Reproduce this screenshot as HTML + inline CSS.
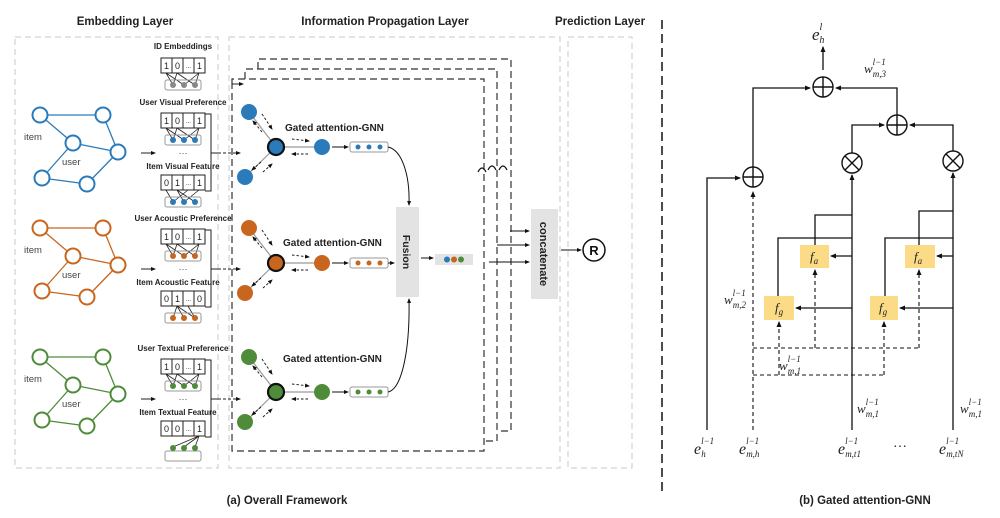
<!DOCTYPE html>
<html><head><meta charset="utf-8"><style>
html,body{margin:0;padding:0;background:#fff;}
svg{display:block;}
.b{font-family:"Liberation Sans",sans-serif;font-weight:bold;}
.s{font-family:"Liberation Serif",serif;font-style:italic;}
</style></head><body>
<svg width="1000" height="518" viewBox="0 0 1000 518" xmlns="http://www.w3.org/2000/svg">
<defs>
<marker id="a" markerWidth="6" markerHeight="6" refX="5" refY="3" orient="auto" markerUnits="userSpaceOnUse"><path d="M0,0.5 L6,3 L0,5.5z" fill="#111"/></marker>
<marker id="as" markerWidth="5" markerHeight="5" refX="4" refY="2.5" orient="auto" markerUnits="userSpaceOnUse"><path d="M0,0.5 L5,2.5 L0,4.5z" fill="#111"/></marker>
</defs>

<!-- titles -->
<text class="b" x="125" y="25" font-size="11.5" text-anchor="middle" fill="#222">Embedding Layer</text>
<text class="b" x="385" y="25" font-size="11.5" text-anchor="middle" fill="#222">Information Propagation Layer</text>
<text class="b" x="600" y="25" font-size="11.5" text-anchor="middle" fill="#222">Prediction Layer</text>

<!-- panels -->
<g fill="none" stroke="#c8c8c8" stroke-width="1" stroke-dasharray="6,4">
<rect x="15" y="37" width="203" height="431"/>
<rect x="229" y="37" width="331" height="431"/>
<rect x="568" y="37" width="64" height="431"/>
</g>
<line x1="662" y1="20" x2="662" y2="492" stroke="#111" stroke-width="1.5" stroke-dasharray="9,5"/>

<!-- ID embeddings -->
<text class="b" x="183" y="49" font-size="8" text-anchor="middle" fill="#222">ID Embeddings</text>
<g stroke="#222" stroke-width="1" fill="none">
<rect x="161" y="58" width="44" height="15" fill="#fff"/>
<line x1="172" y1="58" x2="172" y2="73"/><line x1="183" y1="58" x2="183" y2="73"/><line x1="194" y1="58" x2="194" y2="73"/>
<path d="M166,73 L173,85 M166,73 L184,85 M177,73 L173,85 M177,73 L195,85 M199,73 L184,85 M199,73 L195,85" stroke-width="0.8"/>
</g>
<rect x="165" y="80" width="36" height="10" rx="2" fill="none" stroke="#999"/>
<g fill="#888"><circle cx="173" cy="85" r="3"/><circle cx="184" cy="85" r="3"/><circle cx="195" cy="85" r="3"/></g>
<g font-family="Liberation Sans,sans-serif" font-size="9" text-anchor="middle" fill="#222">
<text x="166.5" y="69">1</text><text x="177.5" y="69">0</text><text x="188.5" y="68" font-size="6">...</text><text x="199.5" y="69">1</text></g>

<!-- graphs -->
<g stroke="#2b7bba" stroke-width="1.3" fill="none">
<path d="M40,115 L103,115 M40,115 L73,143 M73,143 L118,152 M103,115 L118,152 M118,152 L87,184 M87,184 L42,178 M42,178 L73,143"/>
<g fill="#fff" stroke-width="2"><circle cx="40" cy="115" r="7.5"/><circle cx="103" cy="115" r="7.5"/><circle cx="73" cy="143" r="7.5"/><circle cx="118" cy="152" r="7.5"/><circle cx="42" cy="178" r="7.5"/><circle cx="87" cy="184" r="7.5"/></g>
</g>
<g transform="translate(0,113)" stroke="#c8661f" stroke-width="1.3" fill="none">
<path d="M40,115 L103,115 M40,115 L73,143 M73,143 L118,152 M103,115 L118,152 M118,152 L87,184 M87,184 L42,178 M42,178 L73,143"/>
<g fill="#fff" stroke-width="2"><circle cx="40" cy="115" r="7.5"/><circle cx="103" cy="115" r="7.5"/><circle cx="73" cy="143" r="7.5"/><circle cx="118" cy="152" r="7.5"/><circle cx="42" cy="178" r="7.5"/><circle cx="87" cy="184" r="7.5"/></g>
</g>
<g transform="translate(0,242)" stroke="#4e8c3a" stroke-width="1.3" fill="none">
<path d="M40,115 L103,115 M40,115 L73,143 M73,143 L118,152 M103,115 L118,152 M118,152 L87,184 M87,184 L42,178 M42,178 L73,143"/>
<g fill="#fff" stroke-width="2"><circle cx="40" cy="115" r="7.5"/><circle cx="103" cy="115" r="7.5"/><circle cx="73" cy="143" r="7.5"/><circle cx="118" cy="152" r="7.5"/><circle cx="42" cy="178" r="7.5"/><circle cx="87" cy="184" r="7.5"/></g>
</g>
<g font-family="Liberation Sans,sans-serif" font-size="9.5" fill="#444">
<text x="24" y="140">item</text><text x="62" y="165">user</text>
<text x="24" y="253">item</text><text x="62" y="278">user</text>
<text x="24" y="382">item</text><text x="62" y="407">user</text>
</g>

<!-- blue -->
<g>
<text class="b" x="183" y="105" font-size="8" text-anchor="middle" fill="#222">User Visual Preference</text>
<text class="b" x="183" y="169" font-size="8" text-anchor="middle" fill="#222">Item Visual Feature</text>
<text x="183" y="156" font-size="9" text-anchor="middle" fill="#444" font-family="Liberation Sans,sans-serif">···</text>
<g stroke="#222" fill="#fff"><rect x="161" y="113" width="44" height="15"/><rect x="161" y="175" width="44" height="15"/></g>
<g stroke="#222" stroke-width="1"><path d="M172,113v15M183,113v15M194,113v15M172,175v15M183,175v15M194,175v15"/>
<path d="M166,128 L173,140 M166,128 L184,140 M177,128 L173,140 M177,128 L195,140 M199,128 L184,140 M199,128 L195,140 M166,190 L173,202 M177,190 L184,202 M177,190 L195,202 M199,190 L184,202 M188,190 L173,202" stroke-width="0.8" fill="none"/></g>
<g fill="none" stroke="#999"><rect x="165" y="135" width="36" height="10" rx="2"/><rect x="165" y="197" width="36" height="10" rx="2"/></g>
<g fill="#2b7bba"><circle cx="173" cy="140" r="3"/><circle cx="184" cy="140" r="3"/><circle cx="195" cy="140" r="3"/><circle cx="173" cy="202" r="3"/><circle cx="184" cy="202" r="3"/><circle cx="195" cy="202" r="3"/></g>
<g font-family="Liberation Sans,sans-serif" font-size="9" text-anchor="middle" fill="#222"><text x="166.5" y="124">1</text><text x="177.5" y="124">0</text><text x="188.5" y="123" font-size="6">...</text><text x="199.5" y="124">1</text><text x="166.5" y="186">0</text><text x="177.5" y="186">1</text><text x="188.5" y="185" font-size="6">...</text><text x="199.5" y="186">1</text></g>
<path d="M205,114 H211 V191 H205 M211,153 H218" fill="none" stroke="#222"/>
<line x1="141" y1="153" x2="155" y2="153" stroke="#222" marker-end="url(#as)"/>
</g>
<!-- orange -->
<g transform="translate(0,116)">
<text class="b" x="183" y="105" font-size="8" text-anchor="middle" fill="#222">User Acoustic Preference</text>
<text class="b" x="178" y="169" font-size="8" text-anchor="middle" fill="#222">Item Acoustic Feature</text>
<text x="183" y="156" font-size="9" text-anchor="middle" fill="#444" font-family="Liberation Sans,sans-serif">···</text>
<g stroke="#222" fill="#fff"><rect x="161" y="113" width="44" height="15"/><rect x="161" y="175" width="44" height="15"/></g>
<g stroke="#222" stroke-width="1"><path d="M172,113v15M183,113v15M194,113v15M172,175v15M183,175v15M194,175v15"/>
<path d="M166,128 L173,140 M166,128 L184,140 M177,128 L173,140 M177,128 L195,140 M199,128 L184,140 M199,128 L195,140 M177,190 L173,202 M177,190 L184,202 M177,190 L195,202 M188,190 L195,202" stroke-width="0.8" fill="none"/></g>
<g fill="none" stroke="#999"><rect x="165" y="135" width="36" height="10" rx="2"/><rect x="165" y="197" width="36" height="10" rx="2"/></g>
<g fill="#c8661f"><circle cx="173" cy="140" r="3"/><circle cx="184" cy="140" r="3"/><circle cx="195" cy="140" r="3"/><circle cx="173" cy="202" r="3"/><circle cx="184" cy="202" r="3"/><circle cx="195" cy="202" r="3"/></g>
<g font-family="Liberation Sans,sans-serif" font-size="9" text-anchor="middle" fill="#222"><text x="166.5" y="124">1</text><text x="177.5" y="124">0</text><text x="188.5" y="123" font-size="6">...</text><text x="199.5" y="124">1</text><text x="166.5" y="186">0</text><text x="177.5" y="186">1</text><text x="188.5" y="185" font-size="6">...</text><text x="199.5" y="186">0</text></g>
<path d="M205,114 H211 V191 H205 M211,153 H218" fill="none" stroke="#222"/>
<line x1="141" y1="153" x2="155" y2="153" stroke="#222" marker-end="url(#as)"/>
</g>
<!-- green -->
<g transform="translate(0,246)">
<text class="b" x="183" y="105" font-size="8" text-anchor="middle" fill="#222">User Textual Preference</text>
<text class="b" x="178" y="169" font-size="8" text-anchor="middle" fill="#222">Item Textual Feature</text>
<text x="183" y="156" font-size="9" text-anchor="middle" fill="#444" font-family="Liberation Sans,sans-serif">···</text>
<g stroke="#222" fill="#fff"><rect x="161" y="113" width="44" height="15"/><rect x="161" y="175" width="44" height="15"/></g>
<g stroke="#222" stroke-width="1"><path d="M172,113v15M183,113v15M194,113v15M172,175v15M183,175v15M194,175v15"/>
<path d="M166,128 L173,140 M166,128 L184,140 M177,128 L173,140 M177,128 L195,140 M199,128 L184,140 M199,128 L195,140 M199,190 L173,201 M199,190 L184,201 M199,190 L195,201" stroke-width="0.8" fill="none"/></g>
<g fill="none" stroke="#999"><rect x="165" y="135" width="36" height="10" rx="2"/><rect x="165" y="205" width="36" height="10" rx="2"/></g>
<g fill="#4e8c3a"><circle cx="173" cy="140" r="3"/><circle cx="184" cy="140" r="3"/><circle cx="195" cy="140" r="3"/><circle cx="173" cy="202" r="3"/><circle cx="184" cy="202" r="3"/><circle cx="195" cy="202" r="3"/></g>
<g font-family="Liberation Sans,sans-serif" font-size="9" text-anchor="middle" fill="#222"><text x="166.5" y="124">1</text><text x="177.5" y="124">0</text><text x="188.5" y="123" font-size="6">...</text><text x="199.5" y="124">1</text><text x="166.5" y="186">0</text><text x="177.5" y="186">0</text><text x="188.5" y="185" font-size="6">...</text><text x="199.5" y="186">1</text></g>
<path d="M205,114 H211 V191 H205 M211,153 H218" fill="none" stroke="#222"/>
<line x1="141" y1="153" x2="155" y2="153" stroke="#222" marker-end="url(#as)"/>
</g>

<!-- stacked dashed frames -->
<g fill="none" stroke="#333" stroke-width="1.2" stroke-dasharray="7,4">
<path d="M232,84 V79 H484 V451 H232 V84"/>
<path d="M245,79 V69 H497 V441 H484"/>
<path d="M258,69 V59 H511 V431 H497"/>
</g>
<g stroke="#222" stroke-width="1">
<line x1="232" y1="84" x2="243" y2="84" marker-end="url(#as)"/>
<line x1="218" y1="153" x2="240" y2="153" stroke-dasharray="3,2" marker-end="url(#as)"/>
<line x1="218" y1="269" x2="240" y2="269" stroke-dasharray="3,2" marker-end="url(#as)"/>
<line x1="218" y1="399" x2="240" y2="399" stroke-dasharray="3,2" marker-end="url(#as)"/>
</g>
<!-- hops -->
<path d="M478,172 q4,-8 8,0 M488,170 q4,-8 8,0 M499,170 q4,-8 8,0" fill="none" stroke="#111" stroke-width="1.2"/>

<!-- GNN blocks -->
<g>
<g stroke="#999" stroke-width="1.2"><line x1="249" y1="112" x2="276" y2="147"/><line x1="245" y1="177" x2="276" y2="147"/><line x1="276" y1="147" x2="322" y2="147"/></g>
<g stroke="#111" stroke-width="0.9" stroke-dasharray="2.5,2" fill="none">
<line x1="262" y1="114" x2="272" y2="129" marker-end="url(#as)"/><line x1="262" y1="132" x2="253" y2="121" marker-end="url(#as)"/><line x1="261" y1="162" x2="252" y2="170" marker-end="url(#as)"/><line x1="263" y1="172" x2="272" y2="164" marker-end="url(#as)"/><line x1="292" y1="139" x2="309" y2="141" marker-end="url(#as)"/><line x1="308" y1="154" x2="292" y2="154" marker-end="url(#as)"/>
</g>
<circle cx="249" cy="112" r="8" fill="#2b7bba"/><circle cx="245" cy="177" r="8" fill="#2b7bba"/><circle cx="322" cy="147" r="8" fill="#2b7bba"/>
<circle cx="276" cy="147" r="8" fill="#2b7bba" stroke="#111" stroke-width="2.2"/>
<line x1="332" y1="147" x2="348" y2="147" stroke="#111" marker-end="url(#as)"/>
<rect x="350" y="142" width="38" height="10" rx="2" fill="#fff" stroke="#999"/>
<g fill="#2b7bba"><circle cx="358" cy="147" r="2.5"/><circle cx="369" cy="147" r="2.5"/><circle cx="380" cy="147" r="2.5"/></g>
<text class="b" x="285" y="131" font-size="10" fill="#222">Gated attention-GNN</text>
</g>
<g transform="translate(0,116)">
<g stroke="#999" stroke-width="1.2"><line x1="249" y1="112" x2="276" y2="147"/><line x1="245" y1="177" x2="276" y2="147"/><line x1="276" y1="147" x2="322" y2="147"/></g>
<g stroke="#111" stroke-width="0.9" stroke-dasharray="2.5,2" fill="none">
<line x1="262" y1="114" x2="272" y2="129" marker-end="url(#as)"/><line x1="262" y1="132" x2="253" y2="121" marker-end="url(#as)"/><line x1="261" y1="162" x2="252" y2="170" marker-end="url(#as)"/><line x1="263" y1="172" x2="272" y2="164" marker-end="url(#as)"/><line x1="292" y1="139" x2="309" y2="141" marker-end="url(#as)"/><line x1="308" y1="154" x2="292" y2="154" marker-end="url(#as)"/>
</g>
<circle cx="249" cy="112" r="8" fill="#c8661f"/><circle cx="245" cy="177" r="8" fill="#c8661f"/><circle cx="322" cy="147" r="8" fill="#c8661f"/>
<circle cx="276" cy="147" r="8" fill="#c8661f" stroke="#111" stroke-width="2.2"/>
<line x1="332" y1="147" x2="348" y2="147" stroke="#111" marker-end="url(#as)"/>
<rect x="350" y="142" width="38" height="10" rx="2" fill="#fff" stroke="#999"/>
<g fill="#c8661f"><circle cx="358" cy="147" r="2.5"/><circle cx="369" cy="147" r="2.5"/><circle cx="380" cy="147" r="2.5"/></g>
<line x1="388" y1="147" x2="394" y2="147" stroke="#111" marker-end="url(#as)"/>
<text class="b" x="283" y="130" font-size="10" fill="#222">Gated attention-GNN</text>
</g>
<g transform="translate(0,245)">
<g stroke="#999" stroke-width="1.2"><line x1="249" y1="112" x2="276" y2="147"/><line x1="245" y1="177" x2="276" y2="147"/><line x1="276" y1="147" x2="322" y2="147"/></g>
<g stroke="#111" stroke-width="0.9" stroke-dasharray="2.5,2" fill="none">
<line x1="262" y1="114" x2="272" y2="129" marker-end="url(#as)"/><line x1="262" y1="132" x2="253" y2="121" marker-end="url(#as)"/><line x1="261" y1="162" x2="252" y2="170" marker-end="url(#as)"/><line x1="263" y1="172" x2="272" y2="164" marker-end="url(#as)"/><line x1="292" y1="139" x2="309" y2="141" marker-end="url(#as)"/><line x1="308" y1="154" x2="292" y2="154" marker-end="url(#as)"/>
</g>
<circle cx="249" cy="112" r="8" fill="#4e8c3a"/><circle cx="245" cy="177" r="8" fill="#4e8c3a"/><circle cx="322" cy="147" r="8" fill="#4e8c3a"/>
<circle cx="276" cy="147" r="8" fill="#4e8c3a" stroke="#111" stroke-width="2.2"/>
<line x1="332" y1="147" x2="348" y2="147" stroke="#111" marker-end="url(#as)"/>
<rect x="350" y="142" width="38" height="10" rx="2" fill="#fff" stroke="#999"/>
<g fill="#4e8c3a"><circle cx="358" cy="147" r="2.5"/><circle cx="369" cy="147" r="2.5"/><circle cx="380" cy="147" r="2.5"/></g>
<text class="b" x="283" y="117" font-size="10" fill="#222">Gated attention-GNN</text>
</g>

<!-- fusion -->
<path d="M388,147 C402,150 410,175 409,205" fill="none" stroke="#111" marker-end="url(#as)"/>
<path d="M388,392 C402,389 410,350 409,299" fill="none" stroke="#111" marker-end="url(#as)"/>
<rect x="396" y="207" width="23" height="90" fill="#e3e3e3"/>
<text class="b" transform="translate(403,252) rotate(90)" font-size="10.5" text-anchor="middle" fill="#222">Fusion</text>
<line x1="421" y1="258" x2="433" y2="258" stroke="#111" marker-end="url(#as)"/>
<rect x="435" y="254" width="38" height="11" fill="#e3e3e3"/>
<circle cx="447" cy="259.5" r="3" fill="#2b7bba"/><circle cx="454" cy="259.5" r="3" fill="#c8661f"/><circle cx="461" cy="259.5" r="3" fill="#4e8c3a"/>

<!-- concatenate -->
<g stroke="#111" stroke-width="1">
<line x1="510" y1="231" x2="529" y2="231" marker-end="url(#as)"/>
<line x1="497" y1="245" x2="529" y2="245" marker-end="url(#as)"/>
<line x1="489" y1="262" x2="529" y2="262" marker-end="url(#as)"/>
<line x1="561" y1="250" x2="581" y2="250" marker-end="url(#as)"/>
</g>
<rect x="531" y="209" width="27" height="90" fill="#e3e3e3"/>
<text class="b" transform="translate(540,254) rotate(90)" font-size="11" text-anchor="middle" fill="#222">concatenate</text>
<circle cx="594" cy="250" r="11" fill="#fff" stroke="#111" stroke-width="1.5"/>
<text class="b" x="594" y="255" font-size="13" text-anchor="middle" fill="#111">R</text>

<text class="b" x="287" y="504" font-size="11.5" text-anchor="middle" fill="#222">(a) Overall Framework</text>
<text class="b" x="865" y="504" font-size="11.5" text-anchor="middle" fill="#222">(b) Gated attention-GNN</text>

<!-- right panel -->
<g stroke="#111" stroke-width="1.3" fill="none">
<path d="M707,430 V178 H740" marker-end="url(#a)"/>
<path d="M753,167 V88 H810" marker-end="url(#a)"/>
<path d="M897,115 V88 H836" marker-end="url(#a)"/>
<path d="M823,70 V47" marker-end="url(#a)"/>
<path d="M852,153 V125 H884" marker-end="url(#a)"/>
<path d="M953,151 V125 H910" marker-end="url(#a)"/>
<path d="M852,430 V175" marker-end="url(#a)"/>
<path d="M953,430 V173" marker-end="url(#a)"/>
<path d="M852,215 H815 V245 M852,238 H778 V296 M953,211 H919 V245 M953,238 H885 V296"/>
<path d="M852,256 H831" marker-end="url(#a)"/>
<path d="M852,308 H796" marker-end="url(#a)"/>
<path d="M953,256 H937" marker-end="url(#a)"/>
<path d="M953,308 H900" marker-end="url(#a)"/>
</g>
<g stroke="#111" stroke-width="1.1" fill="none" stroke-dasharray="4,3">
<path d="M753,430 V192" marker-end="url(#a)"/>
<path d="M753,348 H919 M753,375 H884"/>
<path d="M815,348 V270" marker-end="url(#a)"/>
<path d="M919,348 V270" marker-end="url(#a)"/>
<path d="M779,375 V322" marker-end="url(#a)"/>
<path d="M884,375 V322" marker-end="url(#a)"/>
</g>
<g fill="#fff" stroke="#111" stroke-width="1.4">
<circle cx="823" cy="87" r="10"/><circle cx="897" cy="125" r="10"/><circle cx="753" cy="177" r="10"/>
<circle cx="852" cy="163" r="10"/><circle cx="953" cy="161" r="10"/>
</g>
<g stroke="#111" stroke-width="1.4">
<path d="M813,87 H833 M823,77 V97 M887,125 H907 M897,115 V135 M743,177 H763 M753,167 V187"/>
<path d="M845,156 L859,170 M859,156 L845,170 M946,154 L960,168 M960,154 L946,168"/>
</g>
<g fill="#fbdb86">
<rect x="800" y="245" width="29" height="23"/><rect x="764" y="296" width="30" height="24"/>
<rect x="905" y="245" width="30" height="23"/><rect x="870" y="296" width="28" height="24"/>
</g>
<g class="s" fill="#222">
<text x="810" y="261" font-size="13">f<tspan font-size="9" dy="3">a</tspan></text>
<text x="775" y="312" font-size="13">f<tspan font-size="9" dy="3">g</tspan></text>
<text x="914" y="261" font-size="13">f<tspan font-size="9" dy="3">a</tspan></text>
<text x="879" y="312" font-size="13">f<tspan font-size="9" dy="3">g</tspan></text>
<text x="812" y="40" font-size="17">e<tspan font-size="10" dy="-10">l</tspan><tspan font-size="10" dx="-3" dy="13">h</tspan></text>
<text x="864" y="73" font-size="13">w<tspan font-size="9" dy="-8">l−1</tspan><tspan font-size="9" dx="-13" dy="12">m,3</tspan></text>
<text x="724" y="304" font-size="13">w<tspan font-size="9" dy="-8">l−1</tspan><tspan font-size="9" dx="-13" dy="12">m,2</tspan></text>
<text x="779" y="370" font-size="13">w<tspan font-size="9" dy="-8">l−1</tspan><tspan font-size="9" dx="-13" dy="12">m,1</tspan></text>
<text x="857" y="413" font-size="13">w<tspan font-size="9" dy="-8">l−1</tspan><tspan font-size="9" dx="-13" dy="12">m,1</tspan></text>
<text x="960" y="413" font-size="13">w<tspan font-size="9" dy="-8">l−1</tspan><tspan font-size="9" dx="-13" dy="12">m,1</tspan></text>
<text x="694" y="454" font-size="16">e<tspan font-size="9" dy="-10">l−1</tspan><tspan font-size="9" dx="-13" dy="13">h</tspan></text>
<text x="739" y="454" font-size="16">e<tspan font-size="9" dy="-10">l−1</tspan><tspan font-size="9" dx="-13" dy="13">m,h</tspan></text>
<text x="838" y="454" font-size="16">e<tspan font-size="9" dy="-10">l−1</tspan><tspan font-size="9" dx="-13" dy="13">m,t1</tspan></text>
<text x="939" y="454" font-size="16">e<tspan font-size="9" dy="-10">l−1</tspan><tspan font-size="9" dx="-13" dy="13">m,tN</tspan></text>
</g>
<text x="900" y="447" font-size="14" text-anchor="middle" fill="#222" font-family="Liberation Serif,serif">…</text>
</svg>
</body></html>
